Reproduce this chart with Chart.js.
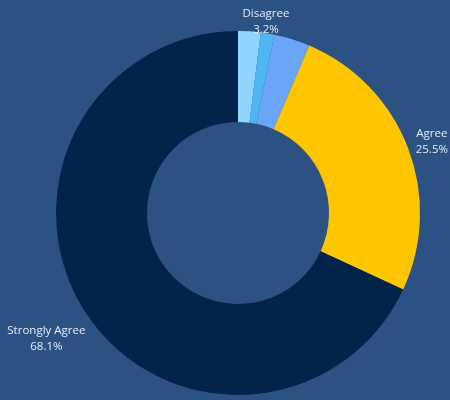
<!DOCTYPE html>
<html>
<head>
<meta charset="utf-8">
<script src="https://cdn.jsdelivr.net/npm/chart.js@4"></script>
<style>
  html, body { margin: 0; padding: 0; background: #2b5283; }
  #wrap { width: 450px; height: 400px; }
</style>
</head>
<body>
<div id="wrap"><canvas id="donutChart" width="450" height="400"></canvas></div>
<script>
// respuestas
const labels = ['Strongly Disagree', 'Neutral', 'Disagree', 'Agree', 'Strongly Agree'];
const values = [2.0, 1.2, 3.2, 25.5, 68.1];
const colors = ['#90d5ff', '#4fb6f2', '#6ba5f7', '#ffc600', '#02244a'];
const showLabel = [false, false, true, true, true];
// desplazamiento de cada etiqueta (x, y)
const labelNudge = [[0, 0], [0, 0], [-35, 11], [-4, 5], [-13, 12]];

// etiquetas por fuera del anillo
const outsideLabels = {
  id: 'outsideLabels',
  afterDatasetsDraw(chart) {
    const ctx = chart.ctx;
    const meta = chart.getDatasetMeta(0);
    ctx.save();
    ctx.font = '11.5px "Open Sans"';
    ctx.fillStyle = '#e6ecf4';
    ctx.textAlign = 'center';
    ctx.textBaseline = 'middle';
    meta.data.forEach((arc, i) => {
      if (!showLabel[i]) return;
      const p = arc.getProps(['x', 'y', 'startAngle', 'endAngle', 'outerRadius']);
      const a = (p.startAngle + p.endAngle) / 2;
      const r = p.outerRadius + 30;
      const x = p.x + Math.cos(a) * r + labelNudge[i][0];
      const y = p.y + Math.sin(a) * r + labelNudge[i][1];
      ctx.fillText(labels[i], x, y - 8);
      ctx.fillText(values[i].toFixed(1) + '%', x, y + 8);
    });
    ctx.restore();
  }
};

const ctx1 = document.getElementById('donutChart').getContext('2d');
new Chart(ctx1, {
  type: 'doughnut',
  data: {
    labels: labels,
    datasets: [{
      data: values,
      backgroundColor: colors,
      borderWidth: 0
    }]
  },
  options: {
    responsive: false,
    animation: false,
    cutout: '50%',
    layout: { padding: { top: 31, bottom: 5, left: 26, right: 0 } },
    plugins: { legend: { display: false }, tooltip: { enabled: false } }
  },
  plugins: [outsideLabels]
});
</script>
</body>
</html>
